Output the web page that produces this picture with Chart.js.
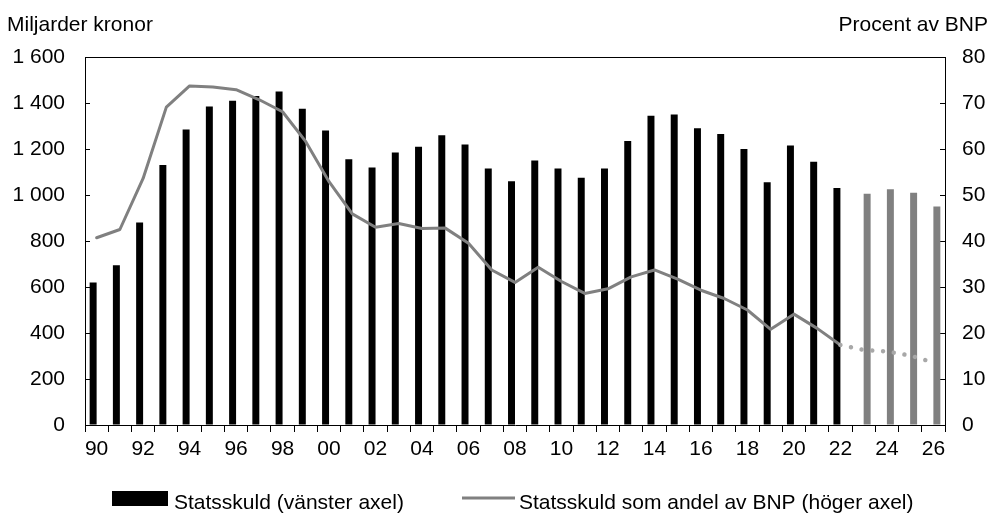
<!DOCTYPE html>
<html><head><meta charset="utf-8">
<script src="https://cdn.jsdelivr.net/npm/chart.js@4/dist/chart.umd.min.js"></script>
<style>html,body{margin:0;padding:0;background:#fff;overflow:hidden}#wrap{position:relative;width:991px;height:514px}</style>
</head><body><div id="wrap"><canvas id="c" width="991" height="514"></canvas></div>
<script>
// Categories (years 1990–2026, shown as two digits)
const years = ['90','91','92','93','94','95','96','97','98','99','00','01','02','03','04','05','06','07','08','09','10','11','12','13','14','15','16','17','18','19','20','21','22','23','24','25','26'];
// Statsskuld, miljarder kronor (utfall 1990–2022)
const debtActual = [620,695,880,1130,1285,1385,1410,1430,1450,1375,1280,1155,1120,1185,1210,1260,1220,1115,1060,1150,1115,1075,1115,1235,1345,1350,1290,1265,1200,1055,1215,1145,1030];
// Statsskuld, prognos 2023–2026
const debtForecast = [1005,1025,1010,950];
// Statsskuld som andel av BNP, procent (1990–2026)
const debtRatio = [40.7,42.5,53.6,69.1,73.7,73.5,72.9,70.7,68.1,61.6,52.9,45.9,43.0,43.8,42.7,42.8,39.5,33.7,31.0,34.3,31.2,28.6,29.6,32.2,33.7,31.7,29.3,27.5,25.0,20.8,24.1,21.0,17.4,16.3,16.0,15.1,13.6];
// Tick labels
const leftTicks = [0,200,400,600,800,1000,1200,1400,1600];
const rightTicks = [0,10,20,30,40,50,60,70,80];
const leftTitle = 'Miljarder kronor';
const rightTitle = 'Procent av BNP';
const legendBar = 'Statsskuld (vänster axel)';
const legendLine = 'Statsskuld som andel av BNP (höger axel)';

const nActual = debtActual.length;
const barActual = years.map((_, i) => i < nActual ? debtActual[i] : null);
const barForecast = years.map((_, i) => i >= nActual ? debtForecast[i - nActual] : null);

const FONT = "'Liberation Sans', Arial, Helvetica, sans-serif";
const FS = 21;
Chart.defaults.font.family = FONT;
Chart.defaults.font.size = FS;
Chart.defaults.color = '#000';

function fmtThousands(v) {
  const s = String(Math.round(v));
  return s.length > 3 ? s.slice(0, s.length - 3) + ' ' + s.slice(-3) : s;
}

const decor = {
  id: 'decor',
  afterDraw(chart) {
    const ctx = chart.ctx, a = chart.chartArea;
    ctx.save();
    ctx.strokeStyle = '#000';
    ctx.lineWidth = 1;
    ctx.beginPath();
    ctx.moveTo(a.left, a.top + 0.5);
    ctx.lineTo(a.right, a.top + 0.5);
    ctx.stroke();
    ctx.font = FS + 'px ' + FONT;
    ctx.fillStyle = '#000';
    ctx.textBaseline = 'alphabetic';
    ctx.textAlign = 'left';
    ctx.fillText(leftTitle, 7, 31);
    ctx.textAlign = 'right';
    ctx.fillText(rightTitle, chart.width - 3, 31);
    // legend
    ctx.textAlign = 'left';
    ctx.fillStyle = '#000';
    ctx.fillRect(112, 491, 56, 15);
    ctx.fillText(legendBar, 174, 509);
    ctx.strokeStyle = '#808080';
    ctx.lineWidth = 3;
    ctx.beginPath();
    ctx.moveTo(462, 498);
    ctx.lineTo(515, 498);
    ctx.stroke();
    ctx.fillStyle = '#000';
    ctx.fillText(legendLine, 519, 509);
    ctx.restore();
  }
};

new Chart(document.getElementById('c'), {
  type: 'bar',
  data: {
    labels: years,
    datasets: [
      {
        type: 'line', label: legendLine, data: debtRatio, yAxisID: 'y1', order: 0,
        borderColor: '#808080', borderWidth: 3, pointRadius: 0, tension: 0,
        borderCapStyle: 'round', borderJoinStyle: 'round',
        segment: {
          borderColor: c => c.p0DataIndex >= nActual - 1 ? '#a8a8a8' : undefined,
          borderDash: c => c.p0DataIndex >= nActual - 1 ? [0.01, 10.8] : undefined,
          borderWidth: c => c.p0DataIndex >= nActual - 1 ? 4.5 : undefined
        }
      },
      { label: legendBar, data: barActual, backgroundColor: '#000000', yAxisID: 'y', order: 1,
        categoryPercentage: 0.6, barPercentage: 1.0 },
      { label: 'Prognos', data: barForecast, backgroundColor: '#808080', yAxisID: 'y', order: 1,
        categoryPercentage: 0.6, barPercentage: 1.0 }
    ]
  },
  options: {
    responsive: false, animation: false,
    layout: { padding: { top: 57, bottom: 49, left: 0, right: 0 } },
    plugins: { legend: { display: false }, tooltip: { enabled: false } },
    scales: {
      x: {
        offset: true,
        grid: { display: true, drawOnChartArea: false, offset: true, tickLength: 7, color: '#000', tickColor: '#000' },
        border: { display: true, color: '#000', width: 1 },
        ticks: { autoSkip: false, maxRotation: 0, minRotation: 0, padding: 5,
          callback: (v, i) => i % 2 === 0 ? years[i] : '' },
        afterFit: s => { s.height = 40; }
      },
      y: {
        position: 'left', min: leftTicks[0], max: leftTicks[leftTicks.length - 1],
        afterBuildTicks: s => { s.ticks = leftTicks.map(v => ({ value: v })); },
        ticks: { padding: 25, callback: v => fmtThousands(v) },
        grid: { drawOnChartArea: false, tickLength: -5, color: '#000', tickColor: '#000' },
        border: { display: true, color: '#000', width: 1 },
        afterFit: s => { s.width = 85; }
      },
      y1: {
        position: 'right', min: rightTicks[0], max: rightTicks[rightTicks.length - 1],
        afterBuildTicks: s => { s.ticks = rightTicks.map(v => ({ value: v })); },
        ticks: { padding: 22, callback: v => String(v) },
        grid: { drawOnChartArea: false, tickLength: -5, color: '#000', tickColor: '#000' },
        border: { display: true, color: '#000', width: 1 },
        afterFit: s => { s.width = 46; }
      }
    }
  },
  plugins: [decor]
});
</script></body></html>
